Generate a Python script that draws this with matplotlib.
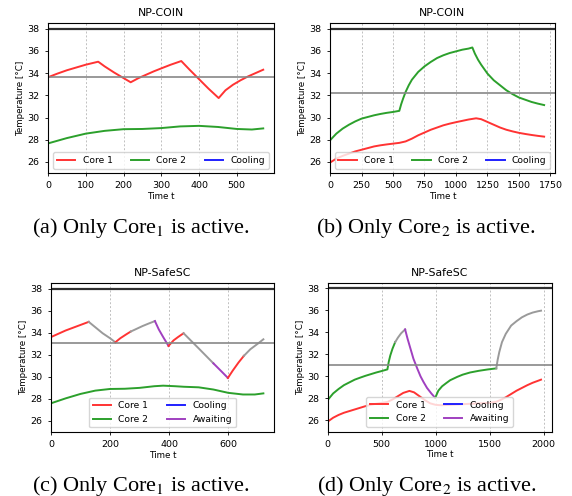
import numpy as np
import matplotlib
matplotlib.use('Agg')
import matplotlib.pyplot as plt
from matplotlib.lines import Line2D
from matplotlib.ticker import MultipleLocator

plt.rcParams['font.family'] = 'DejaVu Sans'
plt.rcParams['mathtext.fontset'] = 'stix'

RED = '#ff3333'
GREEN = '#2ca02c'
BLUE = '#2020ff'
PURPLE = '#a040c0'
GRAY = '#9a9a9a'

# ---- (a) NP-COIN, only Core1 active
a_t1 = [0, 25, 50, 75, 100, 133, 150, 175, 200, 219, 240, 260, 280, 300, 325, 353,
        375, 400, 425, 452, 470, 490, 510, 530, 550, 570]
a_core1 = [33.62, 33.95, 34.25, 34.5, 34.75, 35.02, 34.6, 34.05, 33.55, 33.17, 33.55,
           33.85, 34.15, 34.42, 34.75, 35.08, 34.3, 33.45, 32.6, 31.75, 32.45, 32.95,
           33.35, 33.7, 34.0, 34.3]
a_t2 = [0, 50, 100, 150, 200, 250, 300, 350, 400, 450, 500, 540, 570]
a_core2 = [27.67, 28.15, 28.55, 28.8, 28.95, 28.97, 29.05, 29.2, 29.25, 29.15, 28.97,
           28.92, 29.02]
a_thresh = 33.6

# ---- (b) NP-COIN, only Core2 active
b_t1 = [0, 50, 100, 150, 200, 250, 300, 350, 400, 450, 500, 550, 600, 650, 700, 750,
        800, 850, 900, 950, 1000, 1050, 1100, 1160, 1200, 1250, 1300, 1350, 1400, 1450,
        1500, 1550, 1600, 1650, 1700]
b_core1 = [25.95, 26.3, 26.55, 26.75, 26.95, 27.1, 27.25, 27.4, 27.5, 27.58, 27.65,
           27.72, 27.85, 28.1, 28.4, 28.65, 28.9, 29.1, 29.3, 29.45, 29.58, 29.7, 29.82,
           29.93, 29.85, 29.6, 29.35, 29.1, 28.9, 28.75, 28.62, 28.52, 28.43, 28.35, 28.28]
b_t2 = [0, 50, 100, 150, 200, 250, 300, 350, 400, 450, 500, 550, 565, 580, 600, 625,
        650, 700, 750, 800, 850, 900, 950, 1000, 1050, 1100, 1130, 1150, 1175, 1200,
        1250, 1300, 1350, 1400, 1450, 1500, 1550, 1600, 1650, 1700]
b_core2 = [27.95, 28.55, 29.0, 29.35, 29.65, 29.9, 30.05, 30.2, 30.32, 30.42, 30.5,
           30.6, 31.2, 31.7, 32.3, 32.9, 33.4, 34.1, 34.6, 35.0, 35.35, 35.6, 35.8, 35.95,
           36.1, 36.2, 36.3, 35.75, 35.2, 34.75, 33.95, 33.35, 32.9, 32.45, 32.1, 31.8,
           31.6, 31.4, 31.25, 31.12]
b_thresh = 32.25

# ---- (c) NP-SafeSC, only Core1 active
c_t1 = [0, 25, 50, 75, 100, 128, 150, 175, 200, 218, 235, 255, 270, 290, 310, 330,
        352, 365, 380, 398, 415, 430, 449, 475, 500, 525, 550, 575, 599, 615, 635, 653,
        675, 700, 719]
c_core1 = [33.6, 33.9, 34.2, 34.45, 34.7, 34.98, 34.5, 33.95, 33.5, 33.13, 33.5, 33.85,
           34.1, 34.35, 34.6, 34.82, 35.05, 34.3, 33.6, 32.8, 33.3, 33.6, 33.95, 33.25,
           32.58, 31.9, 31.22, 30.55, 29.9, 30.55, 31.3, 31.9, 32.5, 33.0, 33.4]
c_modes = [(0, 128, 'run'), (128, 218, 'idle'), (218, 270, 'run'), (270, 352, 'idle'),
           (352, 398, 'wait'), (398, 449, 'run'), (449, 550, 'idle'), (550, 599, 'wait'),
           (599, 653, 'run'), (653, 719, 'idle')]
c_t2 = [0, 50, 100, 150, 200, 250, 300, 350, 380, 420, 450, 500, 550, 600, 650, 690, 719]
c_core2 = [27.6, 28.05, 28.45, 28.75, 28.9, 28.92, 29.0, 29.15, 29.2, 29.15, 29.1, 29.05,
           28.85, 28.55, 28.4, 28.4, 28.5]
c_thresh = 33.1

# ---- (d) NP-SafeSC, only Core2 active
d_t1 = [0, 50, 100, 150, 200, 250, 300, 350, 400, 450, 500, 553, 600, 650, 700, 757,
        800, 850, 900, 950, 1000, 1050, 1100, 1200, 1300, 1400, 1500, 1562, 1600, 1650,
        1700, 1750, 1800, 1850, 1900, 1950, 1977]
d_core1 = [25.9, 26.25, 26.5, 26.7, 26.85, 27.0, 27.15, 27.3, 27.42, 27.52, 27.6, 27.68,
           27.9, 28.2, 28.5, 28.68, 28.55, 28.2, 27.85, 27.55, 27.42, 27.38, 27.4, 27.45,
           27.5, 27.55, 27.6, 27.7, 27.85, 28.1, 28.4, 28.7, 28.95, 29.2, 29.42, 29.6,
           29.7]
d_t2 = [0, 50, 100, 150, 200, 250, 300, 350, 400, 450, 500, 553, 565, 580, 600, 625,
        650, 680, 717, 740, 770, 794, 830, 860, 887, 920, 960, 996, 1025, 1060, 1100,
        1135, 1200, 1250, 1320, 1400, 1480, 1562, 1575, 1590, 1615, 1650, 1700, 1750,
        1800, 1850, 1900, 1950, 1977]
d_core2 = [27.86, 28.45, 28.85, 29.2, 29.45, 29.7, 29.88, 30.05, 30.2, 30.35, 30.48,
           30.63, 31.3, 31.9, 32.5, 33.1, 33.5, 33.9, 34.25, 33.4, 32.4, 31.6, 30.7, 30.0,
           29.5, 28.95, 28.45, 28.05, 28.7, 29.1, 29.4, 29.65, 29.95, 30.15, 30.35, 30.5,
           30.62, 30.72, 31.5, 32.2, 33.1, 33.85, 34.6, 35.0, 35.35, 35.6, 35.78, 35.9,
           35.95]
d_modes = [(0, 625, 'run'), (625, 717, 'idle'), (717, 996, 'wait'), (996, 1562, 'run'),
           (1562, 1977, 'idle')]
d_thresh = 31.05

T_MAX = 38
mode_colors = {'idle': GRAY, 'wait': PURPLE}


def plot_modes(ax, t, temp, modes, run_color):
    t = np.asarray(t)
    temp = np.asarray(temp)
    for start, end, mode in modes:
        m = (t >= start) & (t <= end)
        ax.plot(t[m], temp[m], color=mode_colors.get(mode, run_color), lw=1.4)


def style_axes(ax, title, xstep, thresh):
    ax.axhline(T_MAX, color='#303030', lw=1.6)
    ax.axhline(thresh, color='#888888', lw=1.2)
    ax.set_xlim(left=0)
    ax.set_ylim(25, 38.5)
    ax.xaxis.set_major_locator(MultipleLocator(xstep))
    ax.set_yticks([26, 28, 30, 32, 34, 36, 38])
    ax.grid(axis='x', color='#c0c0c0', ls=(0, (2, 2)), lw=0.7)
    ax.tick_params(labelsize=6.8, length=2.5, width=0.6)
    for s in ax.spines.values():
        s.set_linewidth(0.8)
    ax.set_title(title, fontsize=7.8, pad=5)
    ax.set_xlabel('Time t', fontsize=6.3, labelpad=1)
    ax.set_ylabel('Temperature [°C]', fontsize=6.3, labelpad=2)


fig = plt.figure(figsize=(5.72, 4.96), dpi=100)
ax_a = fig.add_axes([0.0839, 0.651, 0.3951, 0.3026])
ax_b = fig.add_axes([0.577, 0.651, 0.393, 0.3026])
ax_c = fig.add_axes([0.089, 0.129, 0.390, 0.3004])
ax_d = fig.add_axes([0.573, 0.130, 0.3915, 0.3004])

h_core1 = Line2D([], [], color=RED, lw=1.4, label='Core 1')
h_core2 = Line2D([], [], color=GREEN, lw=1.4, label='Core 2')
h_cool = Line2D([], [], color=BLUE, lw=1.4, label='Cooling')
h_wait = Line2D([], [], color=PURPLE, lw=1.4, label='Awaiting')

# (a)
ax_a.plot(a_t1, a_core1, color=RED, lw=1.4)
ax_a.plot(a_t2, a_core2, color=GREEN, lw=1.4)
style_axes(ax_a, 'NP-COIN', 100, a_thresh)
ax_a.legend(handles=[h_core1, h_core2, h_cool], loc='lower center', ncol=3, fontsize=6.6)

# (b)
ax_b.plot(b_t1, b_core1, color=RED, lw=1.4)
ax_b.plot(b_t2, b_core2, color=GREEN, lw=1.4)
style_axes(ax_b, 'NP-COIN', 250, b_thresh)
ax_b.legend(handles=[h_core1, h_core2, h_cool], loc='lower center', ncol=3, fontsize=6.6)

# (c)
plot_modes(ax_c, c_t1, c_core1, c_modes, RED)
ax_c.plot(c_t2, c_core2, color=GREEN, lw=1.4)
style_axes(ax_c, 'NP-SafeSC', 200, c_thresh)
ax_c.legend(handles=[h_core1, h_core2, h_cool, h_wait], loc='lower center', ncol=2,
            fontsize=6.6)

# (d)
ax_d.plot(d_t1, d_core1, color=RED, lw=1.4)
plot_modes(ax_d, d_t2, d_core2, d_modes, GREEN)
style_axes(ax_d, 'NP-SafeSC', 500, d_thresh)
ax_d.legend(handles=[h_core1, h_core2, h_cool, h_wait], loc='lower center', ncol=2,
            fontsize=6.6)

captions = [(0.2465, 0.530, r'(a) Only Core$_1$ is active.'),
            (0.744, 0.530, r'(b) Only Core$_2$ is active.'),
            (0.2465, 0.011, r'(c) Only Core$_1$ is active.'),
            (0.7457, 0.011, r'(d) Only Core$_2$ is active.')]
for x, y, s in captions:
    fig.text(x, y, s, ha='center', va='baseline', fontsize=16, family='Liberation Serif')

fig.savefig('out.png', dpi=100)
